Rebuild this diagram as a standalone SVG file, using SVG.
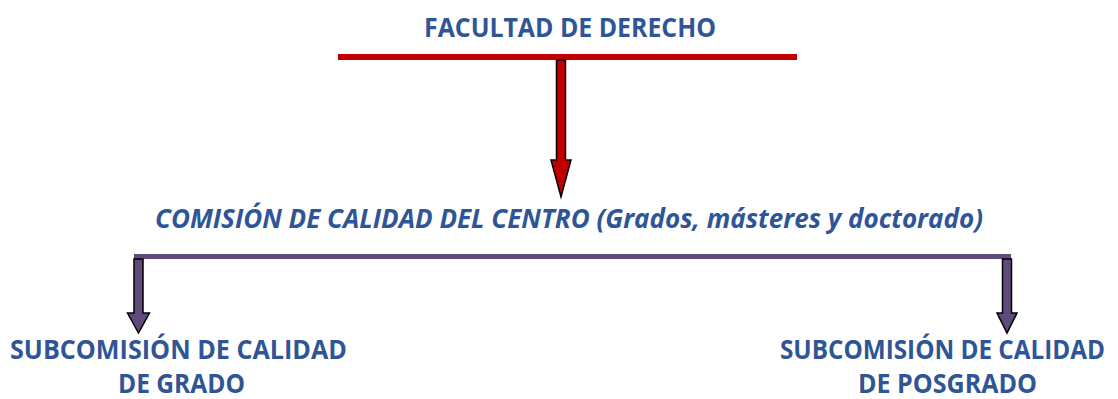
<svg xmlns="http://www.w3.org/2000/svg" width="1118" height="399" viewBox="0 0 1118 399">
<style>
text{font-family:"Open Sans","Liberation Sans",sans-serif;font-weight:bold;fill:#2F5597;font-size:26px}
.it{font-style:italic}
.arrow{stroke:#000;stroke-width:1.5;stroke-linejoin:miter}
.red{fill:#C00000}
.pur{fill:#604A7B}
</style>
<rect width="1118" height="399" fill="#fff"/>
<g id="connectors">
<rect x="338" y="54" width="459" height="6" class="red"/>
<path class="arrow red" d="M556.5 60 H565.5 V160 H571 L561 197 L551 160 H556.5 Z"/>
<rect x="134" y="254" width="877" height="5" class="pur"/>
<path class="arrow pur" d="M134 259 H143 V313 H149.5 L138.5 333 L127.5 313 H134 Z"/>
<path class="arrow pur" d="M1002.5 259 H1011.5 V313 H1017 L1007 333 L997 313 H1002.5 Z"/>
</g>
<g id="facultad"><text x="424" y="37" textLength="292" lengthAdjust="spacingAndGlyphs">FACULTAD DE DERECHO</text></g>
<g id="comision"><text class="it" x="155" y="228" textLength="828" lengthAdjust="spacingAndGlyphs">COMISIÓN DE CALIDAD DEL CENTRO (Grados, másteres y doctorado)</text></g>
<g id="sub-grado">
<text x="10" y="359" textLength="337" lengthAdjust="spacingAndGlyphs">SUBCOMISIÓN DE CALIDAD</text>
<text x="118" y="393" textLength="127" lengthAdjust="spacingAndGlyphs">DE GRADO</text>
</g>
<g id="sub-posgrado">
<text x="780" y="359" textLength="325" lengthAdjust="spacingAndGlyphs">SUBCOMISIÓN DE CALIDAD</text>
<text x="858" y="393" textLength="179" lengthAdjust="spacingAndGlyphs">DE POSGRADO</text>
</g>
</svg>
